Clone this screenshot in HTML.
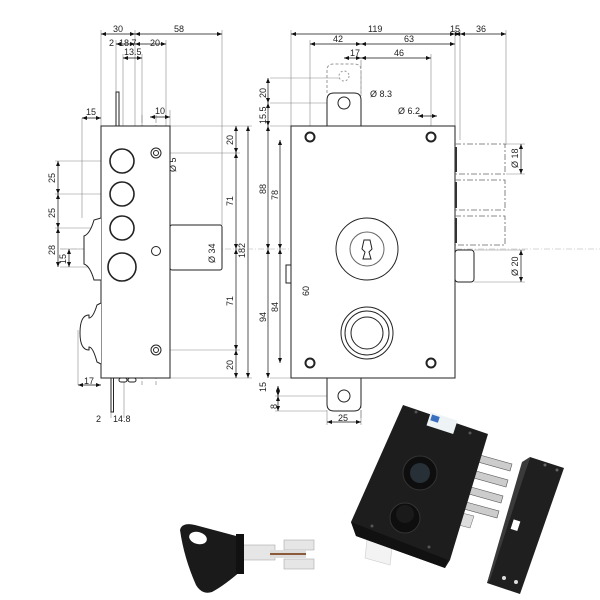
<!DOCTYPE html>
<html><head><meta charset="utf-8"><style>
html,body{margin:0;padding:0;background:#fff}
svg{display:block}
text{font-family:"Liberation Sans",sans-serif;font-size:9px;fill:#222}
</style></head><body>
<svg width="600" height="600" viewBox="0 0 600 600" xmlns="http://www.w3.org/2000/svg">
<defs>
<marker id="a" viewBox="0 0 10 10" refX="10" refY="5" markerWidth="6" markerHeight="5" markerUnits="userSpaceOnUse" orient="auto-start-reverse"><path d="M0,1 L10,5 L0,9z" fill="#111"/></marker>
</defs>
<g stroke="#888" stroke-width="0.6" fill="none">
<line x1="101" y1="30" x2="101" y2="126"/><line x1="222" y1="30" x2="222" y2="225"/>
<line x1="135" y1="30" x2="135" y2="126"/><line x1="116" y1="40" x2="116" y2="92"/>
<line x1="123" y1="54" x2="123" y2="148"/><line x1="166" y1="40" x2="166" y2="126"/>
<line x1="142" y1="54" x2="142" y2="126"/>
<line x1="82" y1="118" x2="82" y2="218"/><line x1="170" y1="110" x2="170" y2="126"/>
<line x1="170" y1="126" x2="252" y2="126"/><line x1="170" y1="378" x2="252" y2="378"/>
<line x1="160" y1="153" x2="240" y2="153"/><line x1="160" y1="350" x2="240" y2="350"/>
<line x1="55" y1="161" x2="122" y2="161"/><line x1="55" y1="194" x2="122" y2="194"/>
<line x1="55" y1="228" x2="122" y2="228"/><line x1="60" y1="249" x2="90" y2="249"/>
<line x1="60" y1="267" x2="90" y2="267"/>
<line x1="78" y1="330" x2="78" y2="385"/><line x1="111" y1="400" x2="111" y2="418"/>
<line x1="124" y1="378" x2="124" y2="418"/>
<line x1="291" y1="30" x2="291" y2="126"/><line x1="455" y1="30" x2="455" y2="126"/>
<line x1="460" y1="30" x2="460" y2="140"/><line x1="506" y1="30" x2="506" y2="145"/>
<line x1="310" y1="40" x2="310" y2="132"/><line x1="431" y1="54" x2="431" y2="132"/>
<line x1="270" y1="78" x2="340" y2="78"/><line x1="270" y1="103" x2="338" y2="103"/>
<line x1="270" y1="126" x2="291" y2="126"/><line x1="270" y1="378" x2="291" y2="378"/>
<line x1="275" y1="396" x2="338" y2="396"/><line x1="275" y1="411" x2="327" y2="411"/>
<line x1="310" y1="277" x2="345" y2="277"/><line x1="310" y1="330" x2="345" y2="330"/>
<line x1="506" y1="144" x2="525" y2="144"/><line x1="506" y1="174" x2="525" y2="174"/>
<line x1="474" y1="250" x2="525" y2="250"/><line x1="474" y1="282" x2="525" y2="282"/>
<line x1="327" y1="410" x2="327" y2="425"/><line x1="361" y1="410" x2="361" y2="425"/>
</g>
<g stroke="#111" stroke-width="0.7" marker-start="url(#a)" marker-end="url(#a)">
<line x1="101" y1="34" x2="135" y2="34"/><line x1="135" y1="34" x2="222" y2="34"/>
<line x1="116" y1="44" x2="135" y2="44"/><line x1="135" y1="44" x2="166" y2="44"/>
<line x1="123" y1="58" x2="142" y2="58"/>
<line x1="82" y1="118" x2="101" y2="118"/><line x1="150" y1="117" x2="170" y2="117"/>
<line x1="58" y1="161" x2="58" y2="194"/><line x1="58" y1="194" x2="58" y2="228"/>
<line x1="58" y1="228" x2="58" y2="267"/><line x1="69" y1="249" x2="69" y2="267"/>
<line x1="236" y1="126" x2="236" y2="153"/><line x1="236" y1="153" x2="236" y2="249"/>
<line x1="236" y1="249" x2="236" y2="350"/><line x1="236" y1="350" x2="236" y2="378"/>
<line x1="248" y1="126" x2="248" y2="378"/>
<line x1="206" y1="227" x2="206" y2="270"/><line x1="168" y1="140" x2="168" y2="168"/>
<line x1="78" y1="385" x2="101" y2="385"/>
<line x1="291" y1="34" x2="455" y2="34"/><line x1="455" y1="34" x2="460" y2="34"/><line x1="460" y1="34" x2="506" y2="34"/>
<line x1="310" y1="44" x2="361" y2="44"/><line x1="361" y1="44" x2="455" y2="44"/>
<line x1="344" y1="58" x2="361" y2="58"/><line x1="361" y1="58" x2="431" y2="58"/>
<line x1="268" y1="78" x2="268" y2="103"/><line x1="268" y1="103" x2="268" y2="126"/>
<line x1="268" y1="126" x2="268" y2="249"/><line x1="280" y1="140" x2="280" y2="249"/>
<line x1="268" y1="249" x2="268" y2="378"/><line x1="280" y1="249" x2="280" y2="363"/>
<line x1="311" y1="249" x2="311" y2="330"/>
<line x1="278" y1="386" x2="278" y2="396"/><line x1="278" y1="396" x2="278" y2="411"/>
<line x1="327" y1="422" x2="361" y2="422"/>
<line x1="521" y1="144" x2="521" y2="174"/><line x1="521" y1="250" x2="521" y2="282"/>
<line x1="418" y1="116" x2="437" y2="116"/>
</g>
<g stroke="#777" stroke-width="0.6" stroke-dasharray="8,2,2,2" fill="none">
<line x1="142" y1="115" x2="142" y2="385"/><line x1="156" y1="115" x2="156" y2="385"/>
<line x1="60" y1="249" x2="600" y2="249" stroke-dasharray="6,2,1,2" stroke="#aaa"/>
<line x1="361" y1="60" x2="361" y2="420"/>
</g>
<g stroke="#222" stroke-width="1" fill="#fff">
<rect x="116" y="92" width="3" height="34"/>
<rect x="111" y="378" width="2.5" height="34"/>
<rect x="101" y="126" width="69" height="252"/>
<rect x="170" y="225" width="52" height="45" rx="2"/>
<path d="M101,218 L94,220 Q90,234 84,236 L84,264 Q90,266 94,280 L101,280"/>
<path d="M101,303 L97,305 Q93,318 89,318 L89,315 Q80,315 80,333 Q80,350 89,350 L89,347 Q93,347 97,362 L101,364"/>
<rect x="119" y="378" width="8" height="4" rx="2"/><rect x="128" y="378" width="8" height="4" rx="2"/>
<circle cx="122" cy="161" r="12" stroke-width="1.6"/>
<circle cx="122" cy="194" r="12" stroke-width="1.6"/>
<circle cx="122" cy="228" r="12" stroke-width="1.6"/>
<circle cx="122" cy="267" r="14" stroke-width="1.6"/>
<circle cx="156" cy="153" r="5"/><circle cx="156" cy="153" r="2.5"/>
<circle cx="156" cy="251" r="4.5"/><circle cx="156" cy="350" r="5"/><circle cx="156" cy="350" r="2.5"/>
</g>
<g stroke="#222" stroke-width="1" fill="#fff">
<path d="M327,126 L327,100 Q327,93 334,93 L354,93 Q361,93 361,100 L361,126" />
<path d="M327,93 L327,70 Q327,64 334,64 L354,64 Q361,64 361,70 L361,93" stroke="#999" stroke-dasharray="3,2" fill="none"/>
<path d="M327,378 L327,404 Q327,411 334,411 L354,411 Q361,411 361,404 L361,378"/>
<circle cx="344" cy="103" r="6"/><circle cx="344" cy="396" r="6"/>
<circle cx="344" cy="76" r="5" stroke="#999" stroke-dasharray="2,2" fill="none"/>
<rect x="455" y="250" width="19" height="32" rx="3"/>
<rect x="291" y="126" width="164" height="252"/>
<rect x="286" y="265" width="5" height="18"/>
<circle cx="310" cy="137" r="4.5" stroke-width="2"/><circle cx="431" cy="137" r="4.5" stroke-width="2"/>
<circle cx="310" cy="363" r="4.5" stroke-width="2"/><circle cx="431" cy="363" r="4.5" stroke-width="2"/>
<circle cx="367" cy="249" r="31"/><circle cx="367" cy="249" r="17" stroke="#666"/>
<path d="M364,240 L370,240 L372,249 L369,252 L371,259 L363,259 L365,252 L362,249Z"/>
<circle cx="367" cy="333" r="26"/><circle cx="367" cy="333" r="22"/><circle cx="367" cy="333" r="16"/>
</g>
<g stroke="#666" stroke-width="0.8" stroke-dasharray="6,2,2,2" fill="none">
<path d="M455,144 L505,144 L505,174 L455,174"/>
<path d="M455,180 L505,180 L505,210 L455,210"/>
<path d="M455,216 L505,216 L505,245 L455,245"/>
</g>
<g fill="#333"><rect x="455" y="147" width="2" height="25"/><rect x="455" y="182" width="2" height="26"/><rect x="455" y="218" width="2" height="25"/></g>
<text x="113" y="32">30</text><text x="174" y="32">58</text>
<text x="109" y="46" font-size="8">2</text><text x="119" y="46" font-size="8">18.7</text><text x="150" y="46">20</text>
<text x="124" y="55" font-size="8">13.5</text>
<text x="86" y="115" font-size="8">15</text><text x="155" y="114">10</text>
<text x="84" y="384">17</text><text x="96" y="422">2</text><text x="113" y="422" font-size="8">14.8</text>
<text x="368" y="32">119</text><text x="450" y="32">15</text><text x="476" y="32">36</text>
<text x="333" y="42">42</text><text x="404" y="42">63</text>
<text x="350" y="56">17</text><text x="394" y="56">46</text>
<text x="370" y="97" fill="#666">Ø 8.3</text><text x="398" y="114" fill="#666">Ø 6.2</text>
<text x="338" y="421">25</text>
<g font-size="9">
<text transform="translate(55,183) rotate(-90)">25</text>
<text transform="translate(55,218) rotate(-90)">25</text>
<text transform="translate(55,255) rotate(-90)">28</text>
<text transform="translate(66,264) rotate(-90)">15</text>
<text transform="translate(233,145) rotate(-90)">20</text>
<text transform="translate(233,206) rotate(-90)">71</text>
<text transform="translate(233,306) rotate(-90)">71</text>
<text transform="translate(233,370) rotate(-90)">20</text>
<text transform="translate(245,258) rotate(-90)" font-size="8">182</text>
<text transform="translate(215,263) rotate(-90)" fill="#666">Ø 34</text>
<text transform="translate(176,172) rotate(-90)" fill="#666">Ø 5</text>
<text transform="translate(266,98) rotate(-90)">20</text>
<text transform="translate(266,124) rotate(-90)" font-size="8">15.5</text>
<text transform="translate(266,194) rotate(-90)">88</text>
<text transform="translate(278,200) rotate(-90)">78</text>
<text transform="translate(266,322) rotate(-90)">94</text>
<text transform="translate(278,312) rotate(-90)">84</text>
<text transform="translate(309,296) rotate(-90)">60</text>
<text transform="translate(266,392) rotate(-90)">15</text>
<text transform="translate(277,409) rotate(-90)" font-size="8">8</text>
<text transform="translate(518,168) rotate(-90)" fill="#666">Ø 18</text>
<text transform="translate(518,276) rotate(-90)" fill="#666">Ø 20</text>
</g>
<g>
<polygon points="480,455 512,464 510,471 478,462" fill="#ccc" stroke="#555" stroke-width="0.6"/>
<polygon points="476,471 508,480 506,487 474,478" fill="#ccc" stroke="#555" stroke-width="0.6"/>
<polygon points="471,487 503,496 501,503 469,494" fill="#ccc" stroke="#555" stroke-width="0.6"/>
<polygon points="466,502 499,511 497,518 464,509" fill="#ccc" stroke="#555" stroke-width="0.6"/>
<polygon points="458,512 474,516 470,528 455,524" fill="#ddd" stroke="#666" stroke-width="0.5"/>
<polygon points="367,540 392,548 390,565 365,558" fill="#f3f3f3" stroke="#ccc" stroke-width="0.6"/>
<polygon points="403,405 488,434 450,560 445,568 356,536 351,522" fill="#1d1d1d"/>
<polygon points="351,522 356,536 445,568 448,560" fill="#111"/>
<rect x="428" y="416" width="28" height="14" fill="#eef3f6" transform="rotate(18 442 423)"/>
<rect x="430" y="418" width="8" height="6" fill="#3a6fc0" transform="rotate(18 442 423)"/>
<circle cx="420" cy="473" r="17" fill="#0e0e0e" stroke="#333"/>
<circle cx="420" cy="473" r="10" fill="#263036"/>
<circle cx="405" cy="518" r="15" fill="#0e0e0e" stroke="#333"/>
<circle cx="405" cy="514" r="9" fill="#1a1a1a"/>
<circle cx="416" cy="412" r="1.5" fill="#555"/><circle cx="470" cy="433" r="1.5" fill="#555"/>
<circle cx="372" cy="526" r="1.5" fill="#555"/><circle cx="429" cy="547" r="1.5" fill="#555"/>
<polygon points="530,457 564,468 520,594 487,583" fill="#1f1f1f"/>
<polygon points="522,462 530,457 490,580 487,583" fill="#3a3a3a"/>
<rect x="512" y="520" width="7" height="10" fill="#fff" transform="rotate(18 515 525)"/>
<circle cx="545" cy="465" r="1.5" fill="#666"/><circle cx="557" cy="470" r="1.5" fill="#666"/>
<circle cx="504" cy="578" r="2" fill="#ddd"/><circle cx="516" cy="582" r="2" fill="#ddd"/>
<rect x="240" y="545" width="35" height="15" fill="#e6e6e6" stroke="#aaa" stroke-width="0.6"/>
<rect x="284" y="540" width="30" height="10" fill="#e6e6e6" stroke="#aaa" stroke-width="0.6"/>
<rect x="284" y="559" width="30" height="10" fill="#e6e6e6" stroke="#aaa" stroke-width="0.6"/>
<rect x="270" y="550" width="36" height="8" fill="#ddd"/>
<line x1="270" y1="554" x2="306" y2="554" stroke="#8a5a3a" stroke-width="2"/>
<path d="M180,530 Q182,522 195,525 L240,537 L242,570 Q225,585 212,592 Q202,595 196,585 Q184,558 180,530Z" fill="#1a1a1a"/>
<rect x="236" y="534" width="8" height="40" fill="#111"/>
<ellipse cx="198" cy="538" rx="9" ry="6" fill="#fff" transform="rotate(15 198 538)"/>
</g>
</svg>
</body></html>
